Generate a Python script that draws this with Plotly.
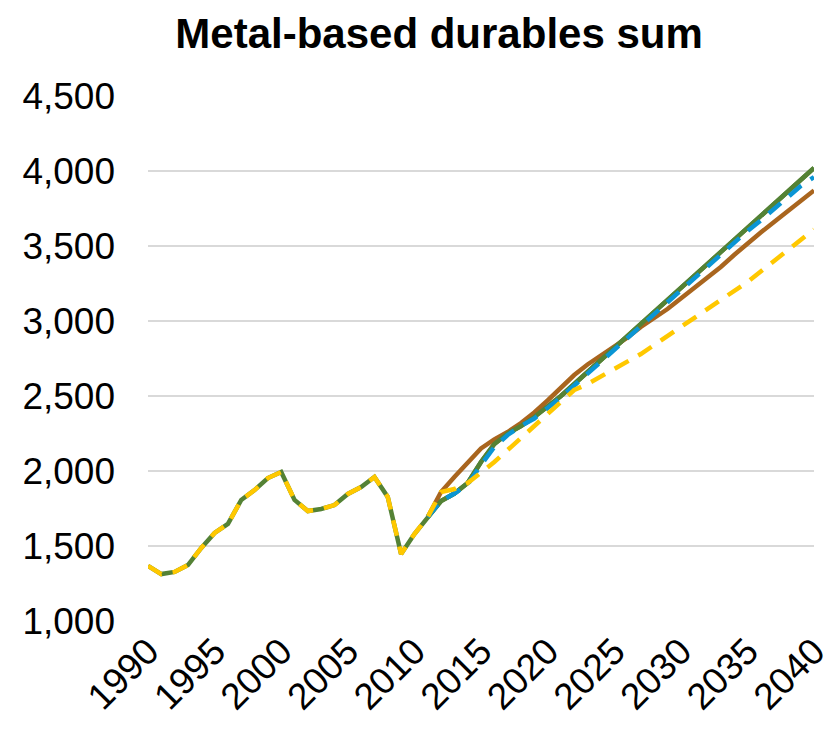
import plotly.graph_objects as go

hist_years = list(range(1990, 2012))
hist = [1367,1313,1327,1373,1487,1587,1647,1807,1873,1953,1993,1807,1733,1747,1773,1847,1893,1960,1827,1447,1580,1693]
proj_years = list(range(2011, 2041))
green = [1693,1800,1850,1920,2060,2180,2250,2300,2360,2430,2500,2580,2660,2740,2820,2900,2980,3060,3140,3220,3300,3380,3460,3540,3620,3700,3780,3860,3940,4020]
blue = [1693,1800,1850,1910,2040,2160,2240,2300,2350,2420,2490,2570,2650,2720,2800,2880,2960,3040,3120,3200,3280,3360,3440,3520,3600,3670,3750,3830,3900,3960]
brown = [1693,1860,1960,2060,2150,2210,2260,2320,2390,2470,2560,2640,2710,2770,2830,2890,2960,3020,3080,3150,3220,3290,3360,3440,3520,3590,3660,3730,3800,3870]
yellow = [1693,1860,1880,1920,1990,2060,2140,2220,2300,2380,2460,2540,2580,2630,2680,2730,2780,2840,2900,2960,3020,3080,3140,3200,3260,3330,3400,3470,3540,3610]

dash = "16px,11px"
fig = go.Figure()
fig.add_trace(go.Scatter(x=hist_years + proj_years[1:], y=hist + green[1:], mode="lines", line=dict(color="#548235", width=4.5)))
fig.add_trace(go.Scatter(x=proj_years, y=brown, mode="lines", line=dict(color="#A9651E", width=4.5)))
fig.add_trace(go.Scatter(x=proj_years, y=green, mode="lines", line=dict(color="#548235", width=4.5)))
fig.add_trace(go.Scatter(x=proj_years, y=blue, mode="lines", line=dict(color="#0A95D4", width=4.5, dash=dash)))
fig.add_trace(go.Scatter(x=hist_years + proj_years[1:], y=hist + yellow[1:], mode="lines", line=dict(color="#FFC800", width=4.5, dash=dash)))

fig.update_layout(
    width=837, height=730, showlegend=False, plot_bgcolor="white", paper_bgcolor="white",
    font=dict(family="Liberation Sans, Arial", size=37, color="black"),
    title=dict(text="<b>Metal-based durables sum</b>", x=0.515, y=0.985, yanchor="top", font=dict(size=42)),
    margin=dict(l=140, r=29, t=88, b=117),
)
fig.update_xaxes(range=[1990, 2040], tickvals=list(range(1990, 2041, 5)), tickangle=-45, showgrid=False, showline=False, ticks="")
fig.update_yaxes(range=[1000, 4500], dtick=500, tickformat=",", gridcolor="#D9D9D9", gridwidth=2, zeroline=False, showline=False, ticks="", ticklabelstandoff=32)
fig.write_html("out.html")
